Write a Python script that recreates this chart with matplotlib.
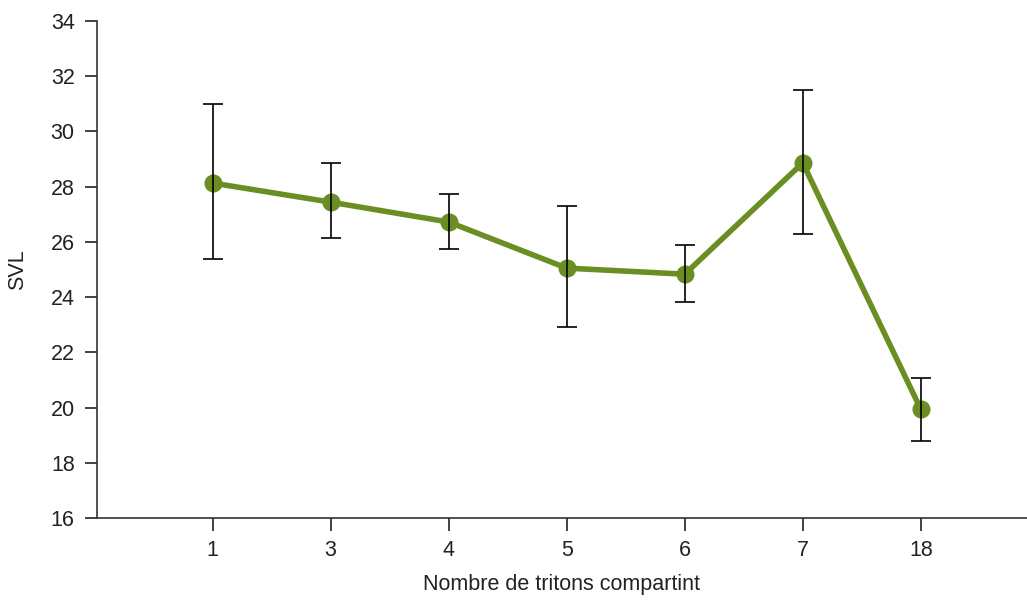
import matplotlib.pyplot as plt

categories = ["1", "3", "4", "5", "6", "7", "18"]
means = [28.13, 27.44, 26.72, 25.05, 24.83, 28.86, 19.94]
upper = [31.0, 28.86, 27.73, 27.3, 25.88, 31.5, 21.07]
lower = [25.38, 26.14, 25.74, 22.91, 23.82, 26.28, 18.78]

plt.rcParams['font.family'] = ['Liberation Sans', 'DejaVu Sans']

fig = plt.figure(figsize=(10.27, 6.0), dpi=100)
ax = fig.add_axes([0.0944, 0.1367, 0.9056, 0.8283])

x = list(range(len(categories)))
err_lo = [m - l for m, l in zip(means, lower)]
err_hi = [u - m for m, u in zip(means, upper)]

ax.plot(x, means, color="#6b8e23", linewidth=4, marker="o", markersize=12, zorder=2)
ax.errorbar(x, means, yerr=[err_lo, err_hi], fmt="none", ecolor="black",
            elinewidth=1.2, capsize=7, capthick=1.2, zorder=3)

ax.set_xlim(-0.98, 6.9)
ax.set_ylim(16, 34)
ax.set_yticks(range(16, 35, 2))
ax.set_xticks(x)
ax.set_xticklabels(categories)

for s in ["top", "right"]:
    ax.spines[s].set_visible(False)
for s in ["left", "bottom"]:
    ax.spines[s].set_color("#333333")
    ax.spines[s].set_linewidth(1.2)

ax.tick_params(axis="both", labelsize=15.5, colors="#222222", length=9, width=1.2, pad=7)
ax.tick_params(axis="y", labelcolor="#222222")
ax.set_xlabel("Nombre de tritons compartint", fontsize=15.5, color="#222222", labelpad=9)
ax.set_ylabel("SVL", fontsize=15.5, color="#222222", labelpad=16)

fig.savefig("out.png", dpi=100)
